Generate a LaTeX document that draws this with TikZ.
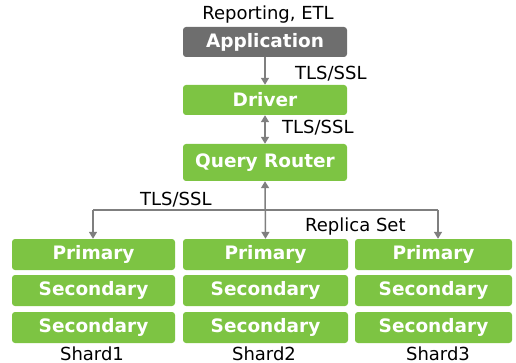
\documentclass[tikz,border=0pt]{standalone}
\usepackage{fontspec}
\setmainfont{DejaVu Sans}
\usetikzlibrary{arrows.meta}
\definecolor{boxgreen}{HTML}{7DC443}
\definecolor{boxgray}{HTML}{6E6E6E}
\definecolor{linegray}{HTML}{7F7F7F}
\tikzset{
  box/.style={rounded corners=3pt, inner sep=0pt, text=white, font=\fontsize{18.5}{21}\selectfont\bfseries, minimum height=31pt},
  gbox/.style={box, fill=boxgreen},
  arr/.style={draw=linegray, line width=1.5pt, -{Triangle[length=7pt,width=8pt]}},
  darr/.style={draw=linegray, line width=1.5pt, {Triangle[length=7pt,width=8pt]}-{Triangle[length=7pt,width=8pt]}},
  plain/.style={draw=linegray, line width=1.5pt},
  lbl/.style={font=\fontsize{18}{21}\selectfont, anchor=base west, inner sep=0pt},
}
\begin{document}
\begin{tikzpicture}[x=1pt,y=-1pt]
\useasboundingbox (0,0) rectangle (516,363);
\node[box, fill=boxgray, minimum width=164pt, minimum height=30pt] (app) at (265,42) {Application};
\node[gbox, minimum width=164pt, minimum height=30pt] (drv) at (265,100) {Driver};
\node[gbox, minimum width=164pt, minimum height=37pt] (qr) at (265,162.5) {Query Router};

\node[gbox, minimum width=163pt] (p1) at (93.5,254.5) {Primary};
\node[gbox, minimum width=163pt] (s1a) at (93.5,290.5) {Secondary};
\node[gbox, minimum width=163pt] (s1b) at (93.5,327.5) {Secondary};
\node[gbox, minimum width=165pt] (p2) at (265.5,254.5) {Primary};
\node[gbox, minimum width=165pt] (s2a) at (265.5,290.5) {Secondary};
\node[gbox, minimum width=165pt] (s2b) at (265.5,327.5) {Secondary};
\node[gbox, minimum width=157pt] (p3) at (433.5,254.5) {Primary};
\node[gbox, minimum width=157pt] (s3a) at (433.5,290.5) {Secondary};
\node[gbox, minimum width=157pt] (s3b) at (433.5,327.5) {Secondary};

\node[lbl, anchor=base] (rep) at (268,20) {Reporting, ETL};
\node[lbl] (t1) at (295,80) {TLS/SSL};
\node[lbl] (t2) at (282,134) {TLS/SSL};
\node[lbl] (t3) at (140,206) {TLS/SSL};
\node[lbl] (rs) at (305,232) {Replica Set};
\node[lbl, anchor=base] (sh1) at (92,360) {Shard1};
\node[lbl, anchor=base] (sh2) at (264,360) {Shard2};
\node[lbl, anchor=base] (sh3) at (438,360) {Shard3};

\draw[arr] (app.south) -- (drv.north);
\draw[darr] (drv.south) -- (qr.north);
\draw[darr] (qr.south) -- (p2.north);
\coordinate (hy) at (0,210);
\coordinate (x1) at (93,0);
\coordinate (x3) at (438,0);
\draw[plain] (hy -| x1) -- (hy -| x3);
\draw[arr] (hy -| x1) -- (x1 |- p1.north);
\draw[arr] (hy -| x3) -- (x3 |- p3.north);
\end{tikzpicture}
\end{document}
